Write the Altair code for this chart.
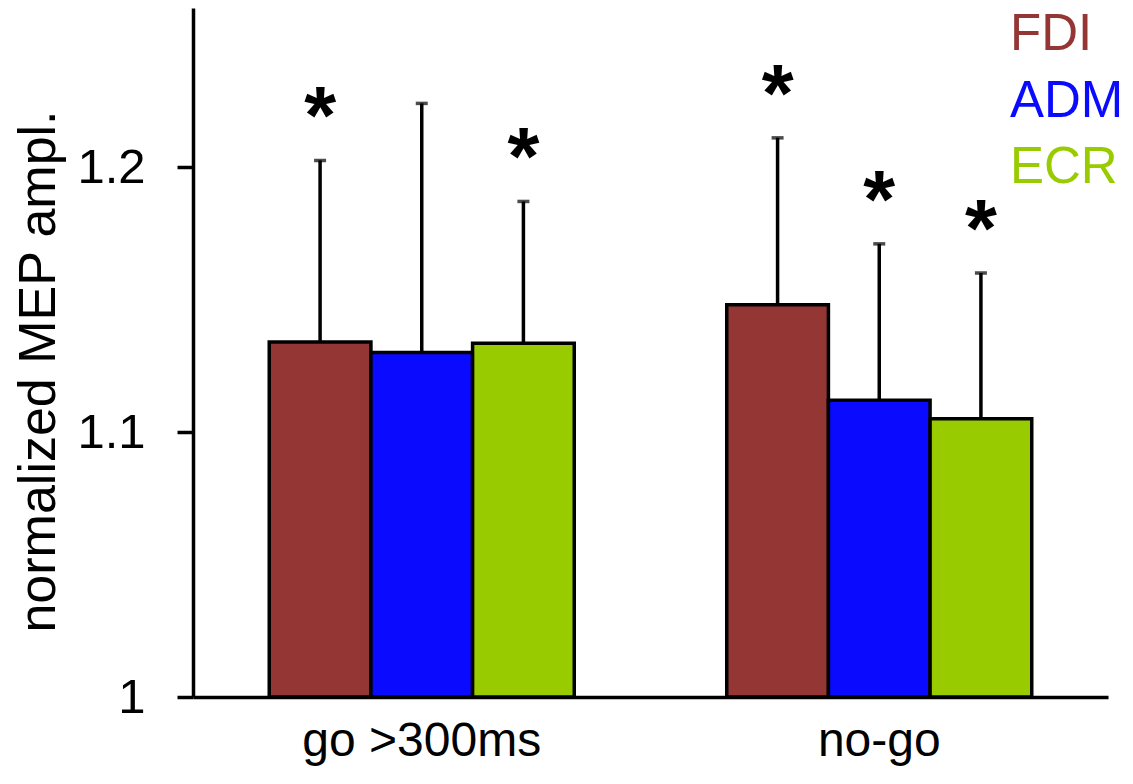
import altair as alt
import pandas as pd

conditions = ["go >300ms", "no-go"]
muscles = ["FDI", "ADM", "ECR"]
colors = ["#943634", "#0a0aff", "#99cc00"]

go_means = [1.134, 1.130, 1.1335]
go_tops = [1.2025, 1.224, 1.187]
go_sig = ["*", "", "*"]

nogo_means = [1.148, 1.112, 1.105]
nogo_tops = [1.211, 1.171, 1.160]
nogo_sig = ["*", "*", "*"]

rows = []
for cond, means, tops, sigs in [
    (conditions[0], go_means, go_tops, go_sig),
    (conditions[1], nogo_means, nogo_tops, nogo_sig),
]:
    for m, mean, top, s in zip(muscles, means, tops, sigs):
        rows.append(dict(condition=cond, muscle=m, mean=mean, top=top, star=s, base=1.0))
df = pd.DataFrame(rows)

legend_df = pd.DataFrame({"muscle": muscles, "idx": list(range(len(muscles)))})

FONT = "Liberation Sans"

color_scale = alt.Scale(domain=muscles, range=colors)

x_enc = alt.X(
    "condition:N",
    sort=conditions,
    scale=alt.Scale(paddingInner=1 / 3, paddingOuter=1 / 6),
    axis=alt.Axis(
        title=None,
        labelAngle=0,
        ticks=False,
        domain=True,
        domainWidth=3.5,
        domainColor="black",
        labelFont=FONT,
        labelFontSize=48,
        labelColor="black",
        labelPadding=58,
        labelBaseline="alphabetic",
        labelLimit=0,
        grid=False,
    ),
)
xoff = alt.XOffset("muscle:N", sort=muscles, scale=alt.Scale(paddingInner=0, paddingOuter=0))

y_scale = alt.Scale(domain=[1, 1.26], zero=False, nice=False)

y_axis = alt.Axis(
    values=[1, 1.1, 1.2],
    format=".1~f",
    title="normalized MEP ampl.",
    grid=False,
    domainWidth=3.5,
    domainColor="black",
    tickWidth=3.5,
    tickSize=16,
    tickColor="black",
    labelFont=FONT,
    labelFontSize=49,
    labelColor="black",
    labelPadding=32,
    labelFlush=False,
    labelOverlap=False,
    titleFont=FONT,
    titleFontSize=52,
    titleFontWeight="normal",
    titleColor="black",
    titleX=-139,
    titleY=363,
    titleAlign="center",
    titleBaseline="alphabetic",
    titleLimit=0,
)

base = alt.Chart(df)

bars = base.mark_bar(stroke="black", strokeWidth=3.5).encode(
    x=x_enc,
    xOffset=xoff,
    y=alt.Y("mean:Q", scale=y_scale, axis=y_axis),
    y2=alt.Y2("base:Q"),
    color=alt.Color("muscle:N", scale=color_scale, legend=None),
)

rules = base.mark_rule(color="black", strokeWidth=3.5).encode(
    x=x_enc,
    xOffset=xoff,
    y=alt.Y("mean:Q", scale=y_scale),
    y2=alt.Y2("top:Q"),
)

caps = base.mark_tick(color="black", size=12, thickness=3.5).encode(
    x=x_enc,
    xOffset=xoff,
    y=alt.Y("top:Q", scale=y_scale),
)

stars = base.mark_text(
    font=FONT, fontSize=82, fontWeight="bold", color="black",
    baseline="alphabetic", align="center", dy=-17,
).encode(
    x=x_enc,
    xOffset=xoff,
    y=alt.Y("top:Q", scale=y_scale),
    text="star:N",
)

main = alt.layer(bars, rules, caps, stars)

legend = alt.Chart(legend_df).mark_text(
    font=FONT, fontSize=51, align="left", baseline="alphabetic",
).encode(
    x=alt.value(817),
    y=alt.Y("idx:Q", scale=alt.Scale(domain=[0, 2], range=[42, 175]), axis=None),
    color=alt.Color("muscle:N", scale=color_scale, legend=None),
    text="muscle:N",
)

chart = (
    alt.layer(main, legend)
    .resolve_scale(y="independent")
    .properties(
        width=915,
        height=689,
        padding={"left": 185, "top": 0, "right": 17, "bottom": 79},
        autosize=alt.AutoSizeParams(type="none"),
        background="white",
    )
    .configure_view(stroke=None)
)

chart.save("out.html", embed_options={"renderer": "svg", "actions": False})
